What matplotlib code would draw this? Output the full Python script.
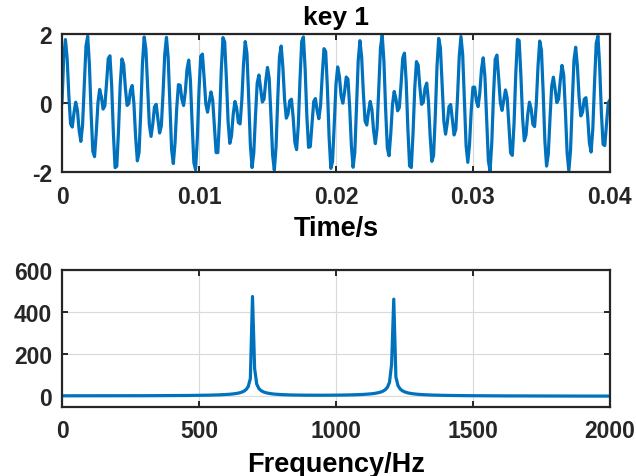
import numpy as np
import matplotlib
matplotlib.use("Agg")
import matplotlib.pyplot as plt

# DTMF key 1 = row tone + column tone
key_name = "key 1"
tone_freqs = [697, 1209]
fs = 8000
n_fft = 1024
t_max = 0.04

plt.rcParams['font.family'] = ['Liberation Sans', 'DejaVu Sans']
plt.rcParams['font.weight'] = 'bold'
plt.rcParams['axes.unicode_minus'] = False

n = np.arange(n_fft)
t = n / fs
x = np.zeros(n_fft)
for f in tone_freqs:
    x += np.sin(2 * np.pi * f * t)

spec = np.abs(np.fft.fft(x))
freqs = np.arange(n_fft) * fs / n_fft

blue = '#0072BD'
fig = plt.figure(figsize=(6.36, 4.77), dpi=100)

ax1 = fig.add_axes([0.0975, 0.637, 0.8615, 0.29])
mask = t <= t_max + 1e-9
ax1.plot(t[mask], x[mask], color=blue, linewidth=2.3)
ax1.set_xlim(0, t_max)
ax1.set_ylim(-2, 2)
ax1.set_xticks([0, 0.01, 0.02, 0.03, 0.04])
ax1.set_xticklabels(['0', '0.01', '0.02', '0.03', '0.04'])
ax1.set_yticks([-2, 0, 2])
ax1.set_title(key_name, fontsize=19, fontweight='bold', pad=7)
ax1.set_xlabel('Time/s', fontsize=19.5, fontweight='bold', labelpad=5)

ax2 = fig.add_axes([0.0975, 0.145, 0.8615, 0.287])
half = freqs <= 2000
ax2.plot(freqs[half], spec[half], color=blue, linewidth=2.3)
ax2.set_xlim(0, 2000)
ax2.set_ylim(-50, 600)
ax2.set_xticks([0, 500, 1000, 1500, 2000])
ax2.set_yticks([0, 200, 400, 600])
ax2.set_xlabel('Frequency/Hz', fontsize=19.5, fontweight='bold', labelpad=6)

for ax in (ax1, ax2):
    ax.grid(True, color='#d9d9d9', linewidth=0.8)
    ax.set_axisbelow(True)
    for s in ax.spines.values():
        s.set_linewidth(1.6)
        s.set_color('#262626')
    ax.tick_params(direction='in', top=True, right=True, length=4, width=1.4,
                   labelsize=16.5, colors='#262626', pad=7)
    ax.tick_params(axis='x', pad=9)
    for lbl in ax.get_xticklabels() + ax.get_yticklabels():
        lbl.set_fontweight('bold')
        lbl.set_color('#262626')

fig.savefig('out.png', dpi=100)
